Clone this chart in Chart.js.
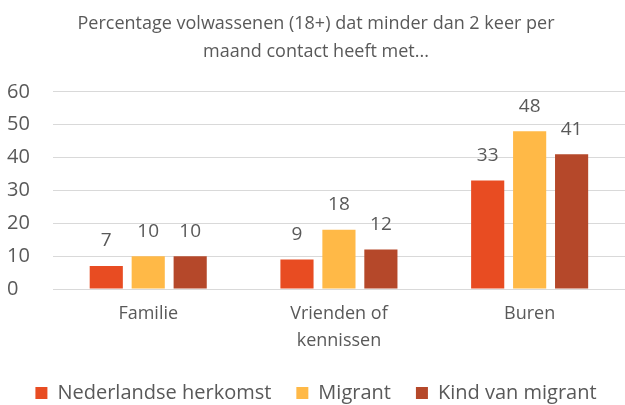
<!DOCTYPE html>
<html>
<head>
<meta charset="utf-8">
<script src="https://cdn.jsdelivr.net/npm/chart.js@4.4.0/dist/chart.umd.min.js"></script>
<style>
  body { margin: 0; background: #fff; }
  #wrap { width: 625px; height: 405px; overflow: hidden; }
</style>
</head>
<body>
<div id="wrap"><canvas id="myChart" width="625" height="405"></canvas></div>
<script>
const categories = ["Familie", ["Vrienden of", "kennissen"], "Buren"];
const nederlandse = [7, 9, 33];
const migrant = [10, 18, 48];
const kindVanMigrant = [10, 12, 41];
const yTicks = [0, 10, 20, 30, 40, 50, 60];

const colors = {
  orange: "#E84C22",
  yellow: "#FFB947",
  brown: "#B5482A",
  text: "#595959",
  grid: "#D9D9D9",
};

const FONT = "'Open Sans', 'Liberation Sans', sans-serif";

// draws the value above each bar
const valueLabels = {
  id: "valueLabels",
  afterDatasetsDraw(chart) {
    const ctx = chart.ctx;
    ctx.save();
    ctx.fillStyle = colors.text;
    ctx.font = "19px " + FONT;
    ctx.textAlign = "center";
    ctx.textBaseline = "middle";
    chart.data.datasets.forEach((ds, i) => {
      chart.getDatasetMeta(i).data.forEach((bar, j) => {
        ctx.fillText(ds.data[j], bar.x, bar.y - 25);
      });
    });
    ctx.restore();
  },
};

const ctx = document.getElementById("myChart").getContext("2d");
new Chart(ctx, {
  type: "bar",
  data: {
    labels: categories,
    datasets: [
      { label: "Nederlandse herkomst", data: nederlandse, backgroundColor: colors.orange },
      { label: "Migrant", data: migrant, backgroundColor: colors.yellow },
      { label: "Kind van migrant", data: kindVanMigrant, backgroundColor: colors.brown },
    ],
  },
  options: {
    responsive: false,
    animation: false,
    layout: { padding: { left: 7, right: 0, top: 0, bottom: -8 } },
    datasets: { bar: { categoryPercentage: 0.66, barPercentage: 0.79 } },
    plugins: {
      title: {
        display: true,
        text: ["Percentage volwassenen (18+) dat minder dan 2 keer per", "maand contact heeft met..."],
        color: colors.text,
        font: { family: FONT, size: 18, weight: "normal", lineHeight: 1.55 },
        padding: { top: 10, bottom: 26 },
      },
      legend: {
        position: "bottom",
        labels: {
          color: colors.text,
          font: { family: FONT, size: 20 },
          boxWidth: 12,
          boxHeight: 12,
          padding: 25,
        },
      },
      tooltip: { enabled: false },
    },
    scales: {
      x: {
        grid: { display: false },
        border: { display: false },
        ticks: { color: colors.text, font: { family: FONT, size: 18, lineHeight: 1.5 }, padding: 3.5 },
      },
      y: {
        min: 0,
        max: 60,
        afterBuildTicks(axis) { axis.ticks = yTicks.map((v) => ({ value: v })); },
        grid: { color: colors.grid, lineWidth: 1, drawTicks: false },
        border: { display: false },
        ticks: { color: colors.text, font: { family: FONT, size: 20 }, padding: 11.5, crossAlign: "far" },
      },
    },
  },
  plugins: [valueLabels],
});
</script>
</body>
</html>
